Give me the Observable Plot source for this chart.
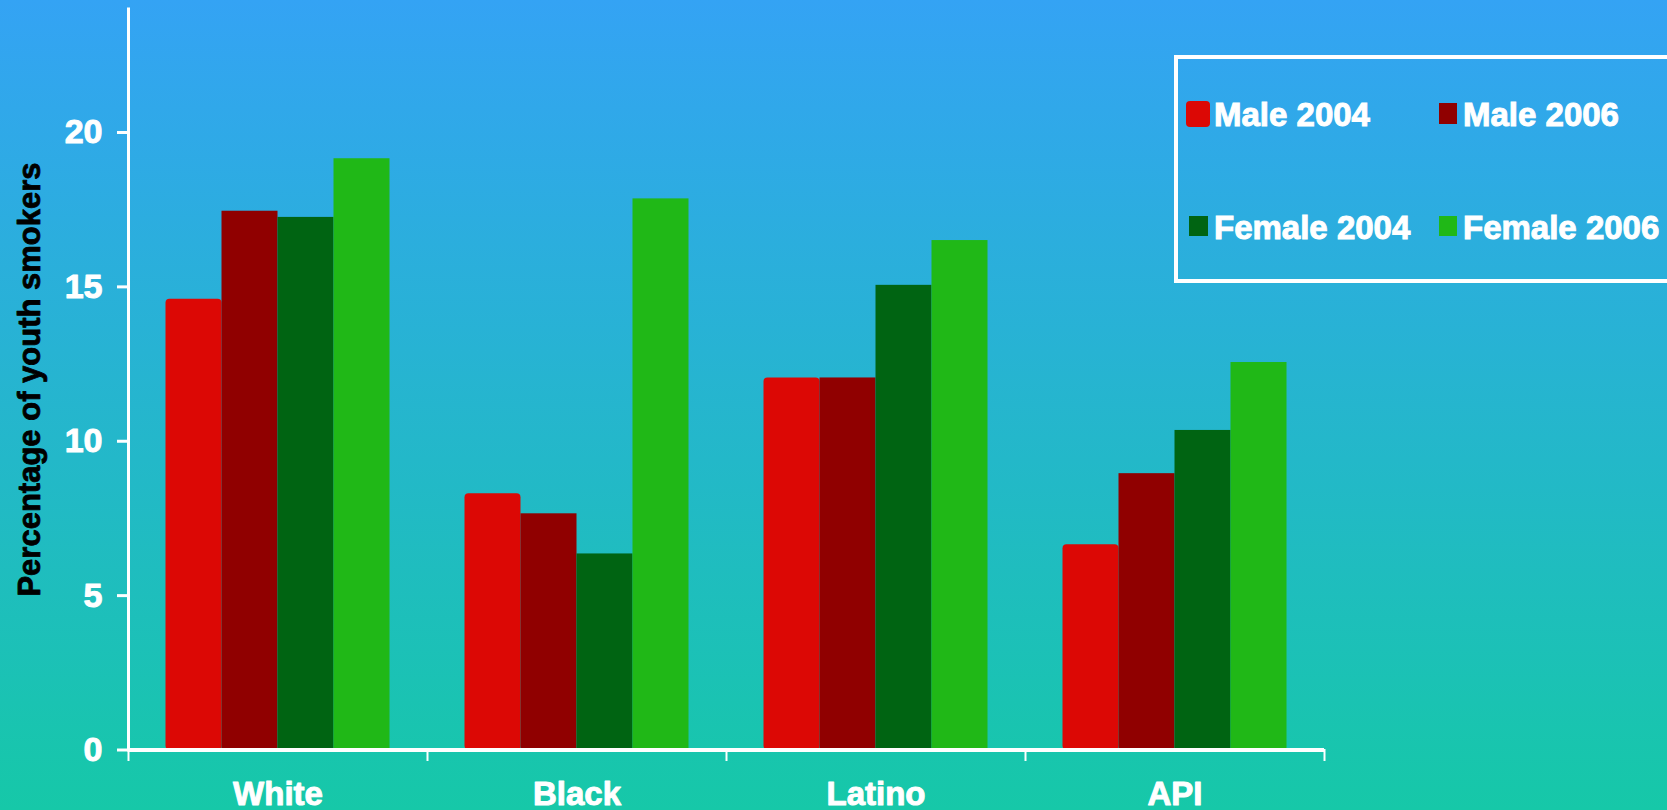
<!DOCTYPE html>
<html><head><meta charset="utf-8">
<script src="https://cdn.jsdelivr.net/npm/d3@7"></script>
<script src="https://cdn.jsdelivr.net/npm/@observablehq/plot@0.6"></script>
<style>
html,body{margin:0;padding:0;}
body{width:1667px;height:810px;overflow:hidden;position:relative;background:linear-gradient(to bottom,#34a3f4 0%,#16c8a8 100%);font-family:"Liberation Sans",Arial,sans-serif;}
#chart{position:absolute;left:0;top:0;}
#legend{position:absolute;left:1174px;top:55px;width:600px;height:220px;border:4px solid #fff;}
.lt{position:absolute;color:#fff;font-weight:bold;font-size:33px;line-height:1;white-space:nowrap;transform:translateY(-50%);-webkit-text-stroke:1px #fff;}
.sw{position:absolute;}
</style></head><body>
<div id="chart"></div><div id="legend"></div>
<script>
const races = ["White", "Black", "Latino", "API"];
const seriesNames = ["Male 2004", "Male 2006", "Female 2004", "Female 2006"];
const seriesColors = ["#dc0805", "#900000", "#006412", "#20b817"];
const male2004 = [14.6, 8.3, 12.05, 6.65];
const male2006 = [17.45, 7.65, 12.05, 8.95];
const female2004 = [17.25, 6.35, 15.05, 10.35];
const female2006 = [19.15, 17.85, 16.5, 12.55];
const yTicks = [0, 5, 10, 15, 20];
const yLabel = "Percentage of youth smokers";

const seriesValues = [male2004, male2006, female2004, female2006];
const data = races.flatMap((race, i) => seriesNames.map((series, j) => ({race, series, value: seriesValues[j][i]})));
const firstSeries = data.filter(d => d.series === seriesNames[0]);
const otherSeries = data.filter(d => d.series !== seriesNames[0]);

const W = 1667, H = 810, mL = 126.5, mR = 341, mT = 8.5, mB = 60.5;
const innerH = H - mT - mB;

const chart = Plot.plot({
  width: W, height: H,
  marginLeft: mL, marginRight: mR, marginTop: mT, marginBottom: mB,
  style: {background: "transparent", overflow: "visible", color: "white", fontFamily: "'Liberation Sans', Arial, sans-serif"},
  fx: {domain: races, padding: 0, label: null},
  x: {domain: seriesNames, paddingInner: 0, paddingOuter: 0.66, axis: null},
  y: {domain: [0, 24], axis: null},
  color: {domain: seriesNames, range: seriesColors},
  marks: [
    Plot.barY(firstSeries, {fx: "race", x: "series", y: "value", fill: "series", rx: 4}),
    Plot.barY(otherSeries, {fx: "race", x: "series", y: "value", fill: "series"}),
    Plot.ruleY([0], {stroke: "white", strokeWidth: 4}),
    Plot.frame({anchor: "left", facetAnchor: "left", stroke: "white", strokeWidth: 3}),
    Plot.frame({anchor: "left", stroke: "white", strokeWidth: 2, insetTop: innerH, insetBottom: -10}),
    Plot.frame({anchor: "right", facetAnchor: "right", stroke: "white", strokeWidth: 2, insetTop: innerH, insetBottom: -10}),
    Plot.axisY({ticks: yTicks, tickSize: 11, tickPadding: 15, color: "white", strokeWidth: 3, fontSize: 34, fontWeight: "bold", label: null,
      textStroke: "white", textStrokeWidth: 1}),
    Plot.axisFx({anchor: "bottom", tickSize: 0, tickPadding: 32, color: "white", fontSize: 33, fontWeight: "bold", label: null,
      textStroke: "white", textStrokeWidth: 1}),
    Plot.text([yLabel], {frameAnchor: "left", facetAnchor: "left", textAnchor: "middle", rotate: -90, dx: -98,
      fill: "black", stroke: "black", strokeWidth: 0.8, fontSize: 31, fontWeight: "bold"})
  ]
});
document.getElementById("chart").appendChild(chart);

// legend (2x2 grid), built from the series arrays
const legendPos = [
  {sx: 1186, sy: 101, sw: 24, sh: 26, r: 4, tx: 1214, ty: 114},
  {sx: 1439, sy: 103, sw: 18, sh: 21, r: 0, tx: 1463, ty: 114},
  {sx: 1189, sy: 216, sw: 19, sh: 20, r: 0, tx: 1214, ty: 227},
  {sx: 1439, sy: 216, sw: 18, sh: 20, r: 0, tx: 1463, ty: 227}
];
seriesNames.forEach((name, i) => {
  const p = legendPos[i];
  const sw = document.createElement("div");
  sw.className = "sw";
  Object.assign(sw.style, {left: p.sx + "px", top: p.sy + "px", width: p.sw + "px", height: p.sh + "px", background: seriesColors[i], borderRadius: p.r + "px"});
  document.body.appendChild(sw);
  const t = document.createElement("div");
  t.className = "lt";
  t.textContent = name;
  Object.assign(t.style, {left: p.tx + "px", top: p.ty + "px"});
  document.body.appendChild(t);
});
</script>
</body></html>
